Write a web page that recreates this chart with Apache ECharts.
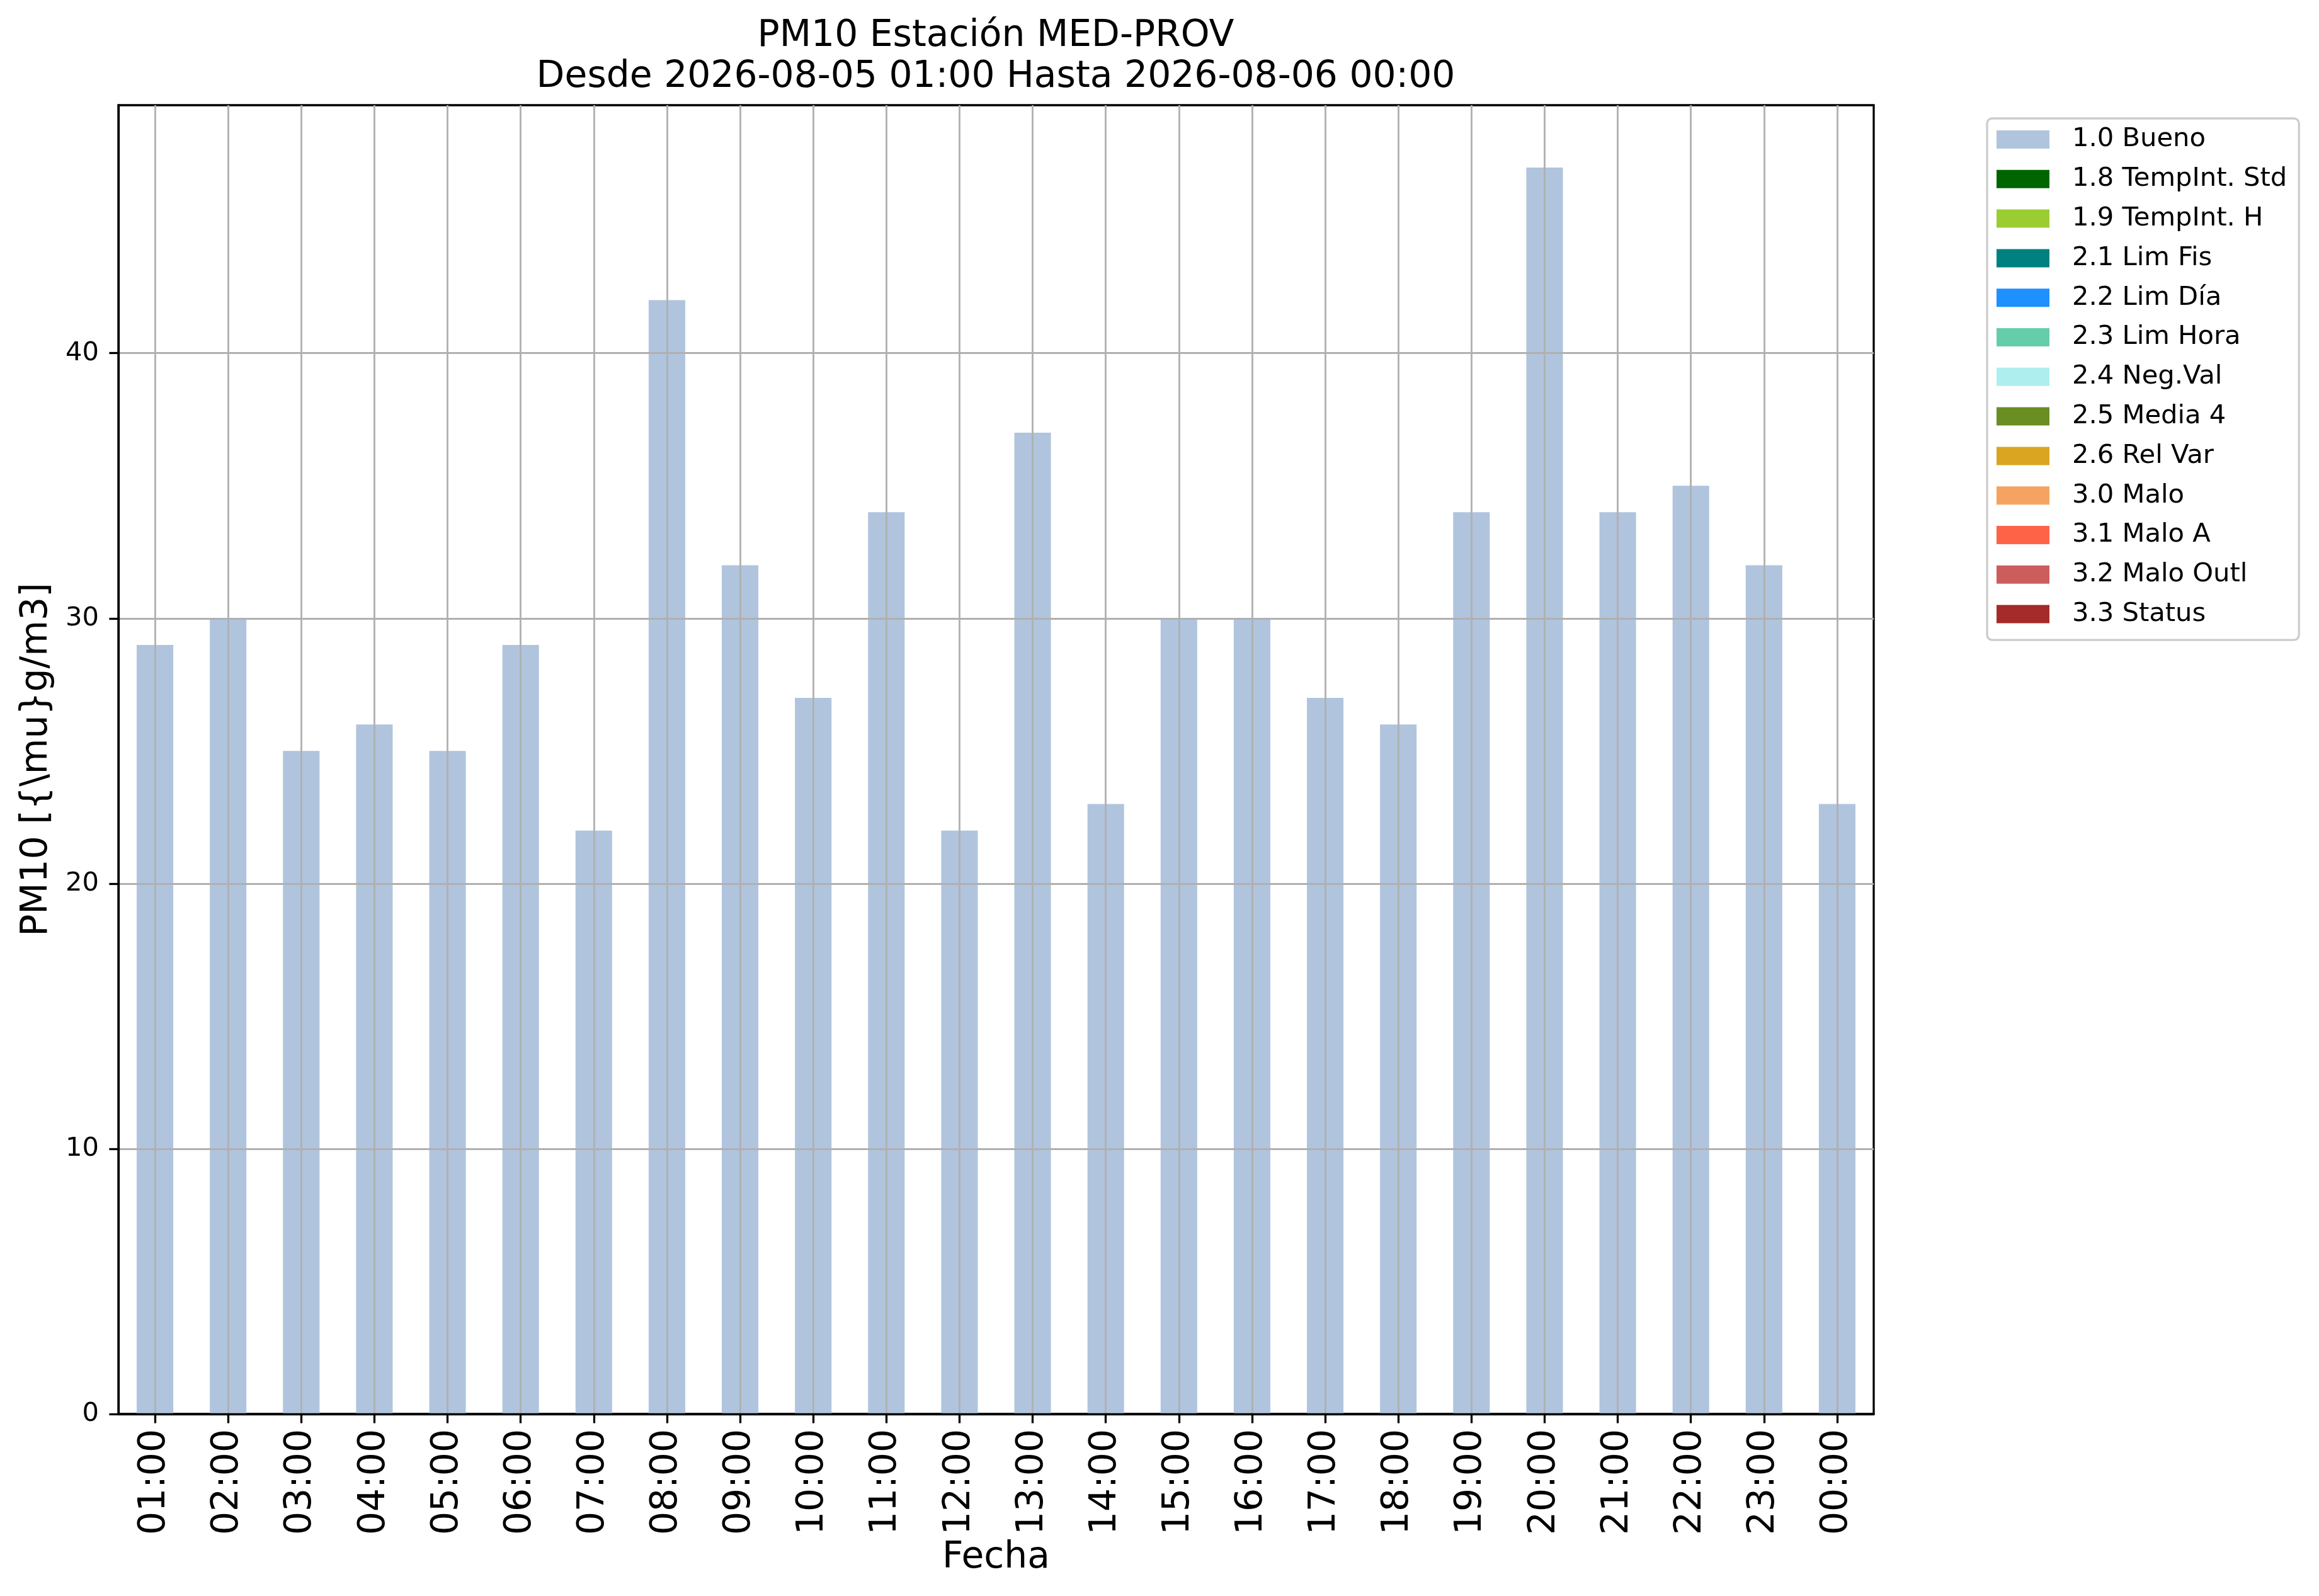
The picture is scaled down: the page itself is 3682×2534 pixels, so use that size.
<html>
  <head>
    <meta charset="utf-8">
    <script src="https://cdn.jsdelivr.net/npm/echarts@6.0.0/dist/echarts.min.js"></script>
    <style>
      body { margin: 0; background: #fff; }
    </style>
  </head>
  <body>
    <div id="main" style="width:3682px;height:2534px;"></div>
    <script>
      // horas del día (eje x)
      var horas = ['01:00', '02:00', '03:00', '04:00', '05:00', '06:00', '07:00', '08:00',
                   '09:00', '10:00', '11:00', '12:00', '13:00', '14:00', '15:00', '16:00',
                   '17:00', '18:00', '19:00', '20:00', '21:00', '22:00', '23:00', '00:00'];
      // valores PM10 con flag 1.0 Bueno
      var bueno = [29, 30, 25, 26, 25, 29, 22, 42, 32, 27, 34, 22,
                   37, 23, 30, 30, 27, 26, 34, 47, 34, 35, 32, 23];
      // las demás categorías no tienen datos en este periodo
      var sinDatos = [];
      var categorias = ['1.0 Bueno', '1.8 TempInt. Std', '1.9 TempInt. H', '2.1 Lim Fis',
                        '2.2 Lim Día', '2.3 Lim Hora', '2.4 Neg.Val', '2.5 Media 4',
                        '2.6 Rel Var', '3.0 Malo', '3.1 Malo A', '3.2 Malo Outl', '3.3 Status'];
      var colores = ['#b0c4de', '#006400', '#9acd32', '#008080', '#1e90ff', '#66cdaa',
                     '#afeeee', '#6b8e23', '#daa520', '#f4a460', '#ff6347', '#cd5c5c', '#a52a2a'];
      var yTicks = [0, 10, 20, 30, 40];

      var fuente = 'DejaVu Sans';
      var myChart = echarts.init(document.getElementById('main'));

      var series = categorias.map(function (nombre, i) {
          return {
              name: nombre,
              type: 'bar',
              stack: 'total',
              barWidth: '50%',
              data: i === 0 ? bueno : sinDatos,
              itemStyle: { color: colores[i] }
          };
      });

      var option = {
          animation: false,
          backgroundColor: '#ffffff',
          title: {
              text: 'PM10 Estación MED-PROV\nDesde 2026-08-05 01:00 Hasta 2026-08-06 00:00',
              left: 1581,
              top: 25,
              padding: 0,
              textAlign: 'center',
              textStyle: { fontFamily: fuente, fontSize: 58.3, fontWeight: 'normal', color: '#000', lineHeight: 65 }
          },
          legend: {
              orient: 'vertical',
              left: 3155,
              top: 188,
              padding: [12.5, 19, 20, 15],
              itemWidth: 84,
              itemHeight: 29,
              itemGap: 20.8,
              icon: 'rect',
              data: categorias,
              backgroundColor: '#ffffff',
              borderColor: '#cccccc',
              borderWidth: 3.3,
              borderRadius: 8,
              textStyle: { fontFamily: fuente, fontSize: 41.67, color: '#000', lineHeight: 42, padding: [0, 0, 0, 31] }
          },
          grid: {
              left: 188,
              top: 167,
              width: 2787,
              height: 2078,
              show: true,
              borderColor: '#000',
              borderWidth: 3.3,
              backgroundColor: 'transparent'
          },
          xAxis: {
              type: 'category',
              data: horas,
              z: 3,
              name: 'Fecha',
              nameLocation: 'middle',
              nameGap: 198,
              nameTextStyle: { fontFamily: fuente, fontSize: 58.3, color: '#000' },
              axisLine: { show: true, lineStyle: { color: '#000', width: 3.3 } },
              axisTick: { show: true, alignWithLabel: true, length: 14.6, lineStyle: { color: '#000', width: 3.3 } },
              axisLabel: { rotate: 90, margin: 24, fontFamily: fuente, fontSize: 58.3, color: '#000', interval: 0 },
              splitLine: { show: true, alignWithLabel: true, lineStyle: { color: '#b0b0b0', width: 2.8 } }
          },
          yAxis: {
              type: 'value',
              min: 0,
              max: 49.35,
              interval: 10,
              z: 3,
              name: 'PM10 [{\\mu}g/m3]',
              nameLocation: 'middle',
              nameGap: 100,
              nameTextStyle: { fontFamily: fuente, fontSize: 58.3, color: '#000' },
              axisLine: { show: true, lineStyle: { color: '#000', width: 3.3 } },
              axisTick: { show: true, length: 14.6, customValues: yTicks, lineStyle: { color: '#000', width: 3.3 } },
              axisLabel: { margin: 31, fontFamily: fuente, fontSize: 41.67, color: '#000', customValues: yTicks },
              splitLine: { show: true, showMinLine: false, lineStyle: { color: '#b0b0b0', width: 2.8 } }
          },
          series: series
      };

      myChart.setOption(option);
    </script>
  </body>
</html>
